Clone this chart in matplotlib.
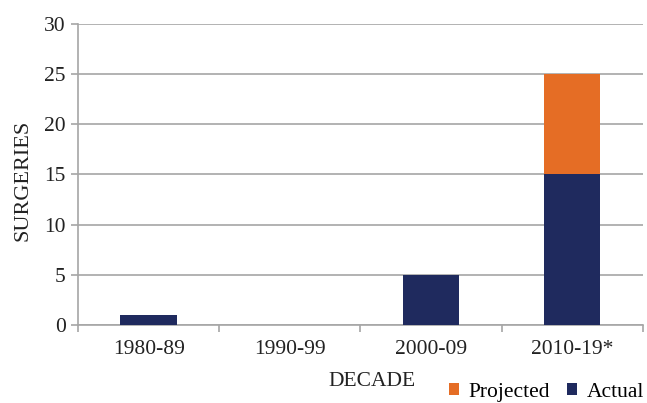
import numpy as np
import matplotlib.pyplot as plt

decades = ["1980-89", "1990-99", "2000-09", "2010-19*"]
actual = [1, 0, 5, 15]
projected = [0, 0, 0, 10]

navy = "#1F2A5E"
orange = "#E56D25"
grid_grey = "#A6A6A6"
text_col = "#222222"
fs = 15.5

plt.rcParams['font.family'] = ['Liberation Serif', 'DejaVu Serif']

fig = plt.figure(figsize=(6.47, 4.03), dpi=100)
ax = fig.add_axes([0.1206, 0.1935, 0.873, 0.747])

x = np.arange(len(decades))
ax.bar(x, actual, width=0.4, color=navy, label="Actual", zorder=3)
ax.bar(x, projected, width=0.4, bottom=actual, color=orange, label="Projected", zorder=3)

ax.set_xlim(-0.5, len(decades) - 0.5)
ax.set_ylim(0, 30)
ax.set_yticks(range(0, 31, 5))
ax.yaxis.grid(True, color=grid_grey, linewidth=1.2, zorder=0)
ax.set_axisbelow(True)

ax.set_xticks(x)
ax.set_xticklabels(decades, fontsize=fs)
ax.set_xticks(np.arange(-0.5, len(decades)), minor=True)
ax.tick_params(axis='x', which='major', length=0, pad=10.5, labelcolor=text_col)
ax.tick_params(axis='x', which='minor', length=5, color=grid_grey, width=1.2)
ax.tick_params(axis='y', length=5, color=grid_grey, width=1.2, labelsize=fs,
               labelcolor=text_col, pad=4)

for s in ['top', 'right']:
    ax.spines[s].set_visible(False)
for s in ['left', 'bottom']:
    ax.spines[s].set_color(grid_grey)
    ax.spines[s].set_linewidth(1.2)

ax.set_xlabel("DECADE", fontsize=fs, color=text_col, labelpad=9.5, x=0.52)
ax.set_ylabel("SURGERIES", fontsize=16, color=text_col, labelpad=8, y=0.48)

# legend sits at the very bottom edge, as in the original
handles, labels = ax.get_legend_handles_labels()
fig.legend(handles[::-1], labels[::-1], loc='lower right', bbox_to_anchor=(1.025, -0.045),
           ncol=2, frameon=False, fontsize=fs, handlelength=0.45, handleheight=0.45,
           handletextpad=0.45, columnspacing=0.8)

fig.savefig("out.png", dpi=100)
